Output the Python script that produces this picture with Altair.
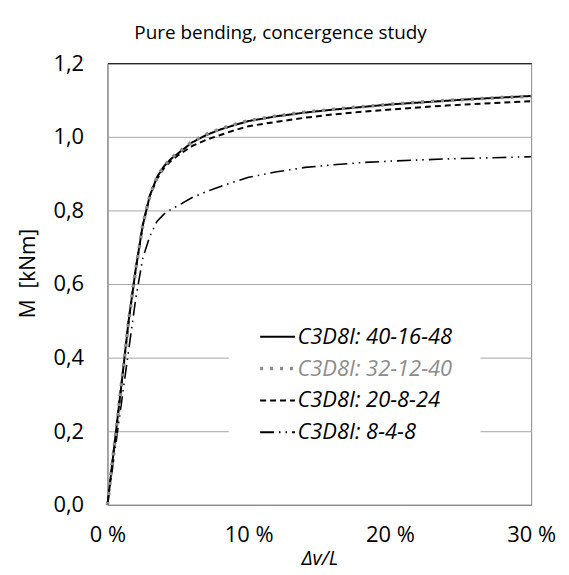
import altair as alt
import pandas as pd

# relative deflection Δv/L
x_vals = [0, 0.005, 0.01, 0.015, 0.02, 0.025, 0.03, 0.035, 0.04, 0.045, 0.05,
          0.06, 0.07, 0.08, 0.09, 0.10, 0.12, 0.14, 0.16, 0.18, 0.20, 0.22,
          0.24, 0.26, 0.28, 0.30]

# bending moment M [kNm]
m_40_16_48 = [0, 0.165, 0.33, 0.50, 0.64, 0.76, 0.84, 0.89, 0.92, 0.94, 0.955,
              0.985, 1.005, 1.020, 1.032, 1.043, 1.056, 1.066, 1.074, 1.081,
              1.088, 1.093, 1.098, 1.103, 1.107, 1.111]
m_32_12_40 = [0, 0.165, 0.33, 0.50, 0.64, 0.76, 0.84, 0.89, 0.92, 0.942, 0.957,
              0.987, 1.007, 1.022, 1.034, 1.044, 1.057, 1.067, 1.075, 1.082,
              1.088, 1.094, 1.099, 1.103, 1.107, 1.110]
m_20_8_24 = [0, 0.165, 0.33, 0.50, 0.64, 0.76, 0.84, 0.885, 0.915, 0.935, 0.950,
             0.975, 0.992, 1.005, 1.018, 1.029, 1.041, 1.052, 1.061, 1.068,
             1.074, 1.080, 1.085, 1.089, 1.093, 1.097]
m_8_4_8 = [0, 0.14, 0.28, 0.42, 0.56, 0.67, 0.73, 0.77, 0.79, 0.803, 0.813,
           0.835, 0.851, 0.865, 0.878, 0.890, 0.905, 0.917, 0.924, 0.930,
           0.934, 0.937, 0.940, 0.942, 0.944, 0.946]

series_names = ["C3D8I: 40-16-48", "C3D8I: 32-12-40", "C3D8I: 20-8-24", "C3D8I: 8-4-8"]
series_colors = ["#000000", "#8c8c8c", "#000000", "#000000"]
series_dash = [[1, 0], [3, 7], [6, 4], [14, 5, 1.5, 5, 1.5, 5]]

x_ticks = [0, 0.1, 0.2, 0.3]
y_ticks = [0, 0.2, 0.4, 0.6, 0.8, 1.0, 1.2]

rows = []
draw_order = [(series_names[0], m_40_16_48), (series_names[3], m_8_4_8),
              (series_names[2], m_20_8_24), (series_names[1], m_32_12_40)]
for name, vals in draw_order:
    for i, (x, m) in enumerate(zip(x_vals, vals)):
        rows.append({"series": name, "x": x, "M": m, "idx": i})
df = pd.DataFrame(rows)

FONT = "Open Sans"
DOTTED = series_names[1]
DASHDOT = series_names[3]

legend_def = dict(
    title=None, orient="none", legendX=122, legendY=236, padding=28,
    fillColor="white", symbolType="stroke", symbolSize=1225, symbolOffset=10,
    symbolStrokeWidth=alt.ExprRef(f"datum.value === '{DOTTED}' ? 3.5 : 2"),
    labelFont=FONT, labelFontSize=22,
    labelFontStyle="italic",
    labelColor=alt.ExprRef(f"datum.value === '{DOTTED}' ? '#8c8c8c' : '#000000'"),
    labelOffset=9, rowPadding=10, labelLimit=300,
)

x_enc = alt.X(
    "x:Q",
    scale=alt.Scale(domain=[0, 0.3], nice=False),
    axis=alt.Axis(values=x_ticks, labelExpr="format(datum.value*100, 'd') + ' %'",
                  title="Δv/L", titleFontStyle="italic", grid=False, ticks=False,
                  labelFlush=False,
                  domainColor="#868686", labelFontSize=22, labelFont=FONT,
                  labelPadding=20, titlePadding=3, titleFontSize=20,
                  titleFont=FONT, titleFontWeight="normal", labelColor="black",
                  titleColor="black"),
)
y_enc = alt.Y(
    "M:Q",
    scale=alt.Scale(domain=[0, 1.2], nice=False),
    axis=alt.Axis(values=y_ticks, labelExpr="replace(format(datum.value, '.1f'), '.', ',')",
                  title="M\u00a0\u00a0[kNm]", grid=True, gridColor="#a6a6a6", ticks=False,
                  domainColor="#868686", labelFontSize=22, labelFont=FONT,
                  labelPadding=24, titlePadding=14, titleFontSize=21, titleY=211,
                  titleFont=FONT, titleFontWeight="normal", labelColor="black",
                  titleColor="black"),
)

width_cond = {
    "condition": [
        {"test": f"datum.series === '{DOTTED}'", "value": 3.5},
        {"test": f"datum.series === '{DASHDOT}'", "value": 1.6},
    ],
    "value": 2,
}

lines = alt.Chart(df).mark_line(strokeJoin="round").encode(
    x=x_enc,
    y=y_enc,
    color=alt.Color("series:N", scale=alt.Scale(domain=series_names, range=series_colors),
                    legend=alt.Legend(**legend_def)),
    strokeDash=alt.StrokeDash("series:N", scale=alt.Scale(domain=series_names, range=series_dash),
                              legend=alt.Legend(**legend_def)),
    strokeWidth=width_cond,
    order="idx:Q",
    detail="series:N",
)

top_axis = alt.Chart(df).mark_line(opacity=0).encode(
    x=alt.X("x:Q", scale=alt.Scale(domain=[0, 0.3], nice=False),
            axis=alt.Axis(orient="top", labels=False, ticks=False, grid=False,
                          title=None, domainColor="#000000")),
    y=alt.Y("M:Q", scale=alt.Scale(domain=[0, 1.2], nice=False)),
    detail="series:N",
)

chart = alt.layer(lines, top_axis).resolve_axis(x="independent").properties(
    width=426, height=444,
    title=alt.Title("Pure bending, concergence study", font=FONT, fontSize=19,
                    fontWeight="normal", color="black", anchor="middle", dx=-39,
                    offset=9),
    autosize=alt.AutoSizeParams(type="none"),
    padding={"left": 100, "top": 54, "right": 30, "bottom": 66},
    background="white",
).configure_view(stroke="#868686", strokeWidth=1)

chart.save("out.html", embed_options={"renderer": "svg", "actions": False})
